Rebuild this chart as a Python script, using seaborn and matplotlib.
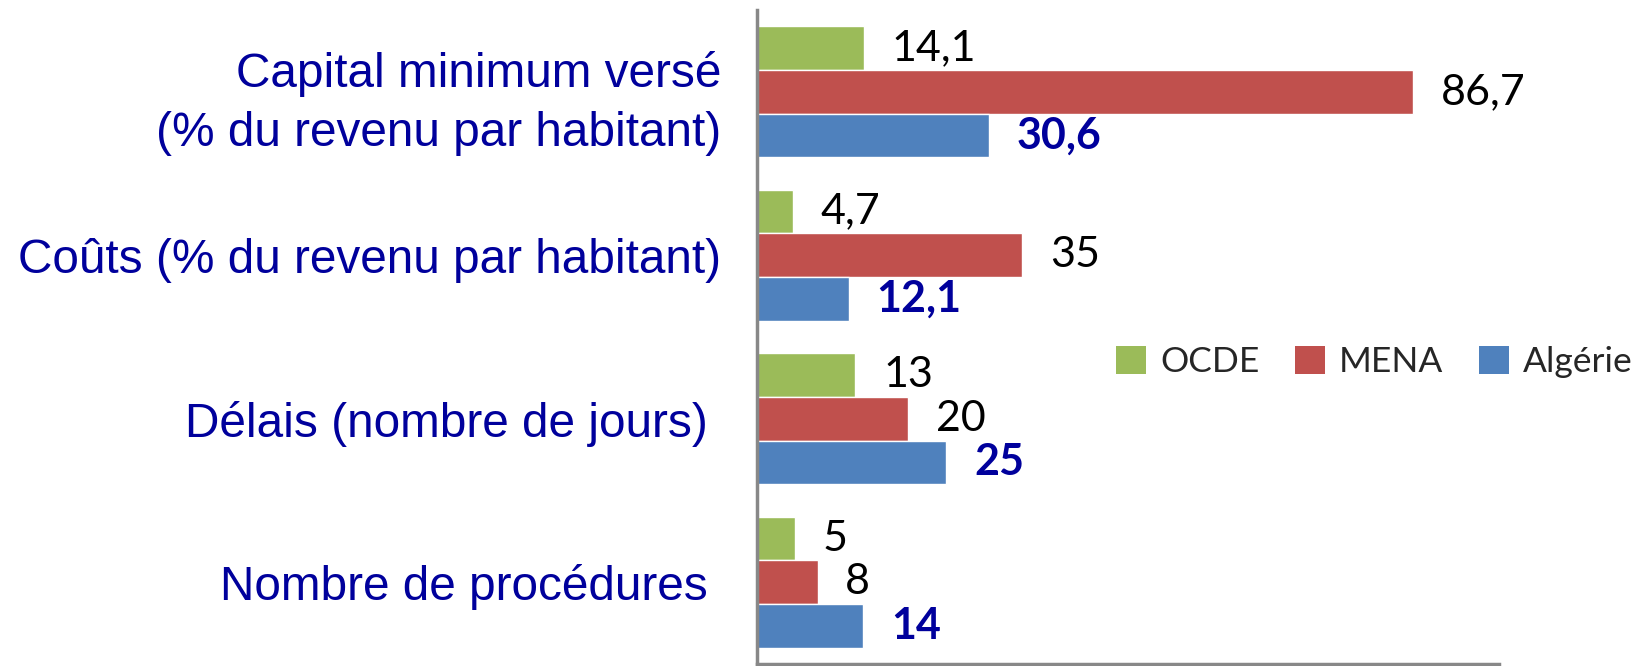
import matplotlib
matplotlib.use("Agg")
import matplotlib.pyplot as plt
import seaborn as sns
import pandas as pd
from matplotlib.patches import Patch

sns.set_theme(style="white")

# Data
categories = [
    "Capital minimum versé\n(% du revenu par habitant)",
    "Coûts (% du revenu par habitant)",
    "Délais (nombre de jours) ",
    "Nombre de procédures ",
]
series = ["OCDE", "MENA", "Algérie"]
ocde = [14.1, 4.7, 13, 5]
mena = [86.7, 35, 20, 8]
algerie = [30.6, 12.1, 25, 14]
value_labels = {
    "OCDE": ["14,1", "4,7", "13", "5"],
    "MENA": ["86,7", "35", "20", "8"],
    "Algérie": ["30,6", "12,1", "25", "14"],
}

COLORS = {"OCDE": "#9BBB59", "MENA": "#C0504D", "Algérie": "#4F81BD"}
LABEL_BLUE = "#00009C"
SPINE_GREY = "#888888"

df = pd.DataFrame({
    "categorie": categories * 3,
    "serie": [s for s in series for _ in categories],
    "valeur": ocde + mena + algerie,
})

fig = plt.figure(figsize=(16.46, 6.66), dpi=100)
ax = fig.add_axes([757 / 1646, 2 / 666, (1499 - 757) / 1646, (664 - 10) / 666])

sns.barplot(data=df, x="valeur", y="categorie", hue="serie",
            order=categories, hue_order=series, palette=COLORS,
            orient="h", width=0.8, saturation=1, legend=False, ax=ax)

ax.set_xlim(0, 98)
ax.set_ylim(3.5, -0.5)
ax.set_xlabel("")
ax.set_ylabel("")
ax.set_xticks([])
ax.tick_params(axis="y", length=0, pad=26)
for lbl in ax.get_yticklabels():
    lbl.set_fontfamily("Liberation Sans")
    lbl.set_fontsize(34.4)
    lbl.set_color(LABEL_BLUE)
    lbl.set_linespacing(1.4)

for side in ["top", "right"]:
    ax.spines[side].set_visible(False)
for side in ["left", "bottom"]:
    ax.spines[side].set_color(SPINE_GREY)
    ax.spines[side].set_linewidth(2.5)

# Value labels
for container, name in zip(ax.containers, series):
    bold = name == "Algérie"
    ax.bar_label(container, labels=value_labels[name], padding=20,
                 fontsize=31, family="Lato",
                 fontweight="bold" if bold else "normal",
                 color=LABEL_BLUE if bold else "black")

handles = [Patch(facecolor=COLORS[s], edgecolor="none", label=s) for s in series]
fig.legend(handles=handles, loc="center left",
           bbox_to_anchor=(1084 / 1646, 1 - 362 / 666), ncol=3, frameon=False,
           prop={"family": "Lato", "size": 25.5}, handlelength=0.85,
           handleheight=0.85, handletextpad=0.4, columnspacing=1.0)

fig.savefig("out.png", dpi=100)
